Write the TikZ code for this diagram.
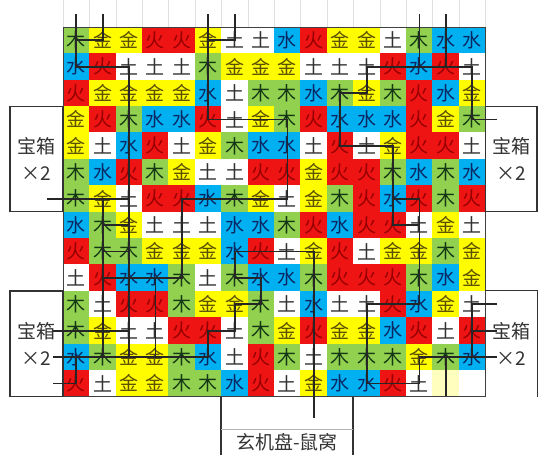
\documentclass[tikz,border=0pt]{standalone}
\usepackage{fontspec}
\setmainfont{Noto Sans CJK SC}
\usepackage{tikz}
\usepackage{xcolor}
\definecolor{jinc}{RGB}{255,252,0}
\definecolor{muc}{RGB}{146,208,80}
\definecolor{shuic}{RGB}{0,176,240}
\definecolor{huoc}{RGB}{238,20,20}
\definecolor{jint}{RGB}{90,80,0}
\definecolor{mut}{RGB}{20,55,20}
\definecolor{shuit}{RGB}{10,40,100}
\definecolor{huot}{RGB}{150,0,0}
\definecolor{tut}{RGB}{50,50,50}

\begin{document}
\begin{tikzpicture}[x=1pt,y=-1pt]%
  \tikzstyle{cell}=[rectangle,minimum size=26.8pt,inner sep=0,font=\fontsize{19}{19}\selectfont]
  \tikzstyle{金}=[fill=jinc,text=jint]
  \tikzstyle{木}=[fill=muc,text=mut]
  \tikzstyle{水}=[fill=shuic,text=shuit]
  \tikzstyle{火}=[fill=huoc,text=huot]
  \tikzstyle{土}=[fill=white,text=tut]
  \tikzstyle{road}=[draw=black!85,line width=1.8pt]
  \tikzstyle{boxl}=[draw=black!80,line width=1.1pt]
  \tikzstyle{chest}=[boxl,rectangle,inner sep=0,align=center,font=\fontsize{19}{26.4}\selectfont,text=black!80]
  \useasboundingbox (0,0) rectangle (550,455);
  \foreach \k in {0,...,16} \draw[gray!25] (63+26.4*\k,0) -- (63+26.4*\k,27);
  \foreach \row [count=\r] in {
      {木,金,金,火,火,金,土,土,水,火,金,金,土,木,水,水},
      {水,火,土,土,土,木,金,金,金,土,土,土,火,水,火,土},
      {火,金,金,金,金,水,土,木,木,水,木,金,木,火,水,金},
      {金,火,木,水,水,火,土,金,木,火,水,水,水,火,金,木},
      {金,土,水,火,土,金,木,水,水,土,火,土,金,火,火,土},
      {木,水,火,木,金,土,土,火,火,金,火,火,木,水,木,水},
      {木,金,土,火,火,水,木,金,土,金,木,火,水,火,木,火},
      {水,木,金,土,土,土,水,水,木,火,水,火,火,土,金,土},
      {火,木,木,金,金,金,水,火,土,金,火,土,金,金,木,金},
      {土,火,水,水,木,土,木,水,水,木,火,火,火,木,水,金},
      {木,土,火,火,木,金,金,木,土,水,土,土,火,水,金,土},
      {木,金,土,土,火,火,土,木,金,火,金,金,水,火,土,火},
      {水,木,金,金,木,水,土,火,木,土,木,木,木,金,木,水},
      {火,土,金,金,木,木,水,火,土,金,水,水,火,土}} {
    \foreach \c [count=\k] in \row
      \node[cell,\c] (c\r-\k) at (63+26.4*\k-13.2,27+26.4*\r-13.2) {\c};
  }
  \node[cell,fill=jinc!25] (c14-15) at (63+26.4*15-13.2,27+26.4*14-13.2) {};
  \node[cell,fill=white] (c14-16) at (63+26.4*16-13.2,27+26.4*14-13.2) {};
  \draw[black!75,line width=1pt] (63,27) rectangle (485.4,396.6);

  \node[chest,minimum width=53pt,minimum height=105.6pt] (chestA) at (36.5,159) {宝箱\\×2};
  \node[chest,minimum width=51.6pt,minimum height=105.6pt] (chestB) at (511.2,159) {宝箱\\×2};
  \node[chest,minimum width=53pt,minimum height=105.6pt] (chestC) at (36.5,343.8) {宝箱\\×2};
  \node[chest,draw=none,minimum width=51.6pt,minimum height=105.6pt] (chestD) at (511.2,343.8) {宝箱\\×2};
  \draw[boxl] (chestD.south east) -- (chestD.north east) -- (chestD.north west);
  \node[font=\fontsize{19}{19}\selectfont,text=black!80] (nest) at (287,442) {玄机盘-鼠窝};
  \draw[boxl] (221,396.6) -- (221,455);
  \draw[boxl] (353,396.6) -- (353,455);
  \draw[gray!60,line width=0.8pt] (221,429) -- (353,429);

  \draw[road] (c1-1 |- 0,14) -- (c2-1.center) -- (c2-3.center) -- (c13-3.center);
  \draw[road] (c1-2 |- 0,14) -- (c1-2.center) -- (c1-1.center);
  \draw[road] (c1-6 |- 0,14) -- (c4-6.center) -- (c4-9.center) -- (c7-9.center) -- (c7-5.center) -- (c10-5.center) -- (c10-2.center);
  \draw[road] (c1-7 |- 0,14) -- (c1-7.center) -- (c1-6.center);
  \draw[road] (47,0 |- c7-1) -- (c7-3.center);
  \draw[road] (c7-2.center) -- (c13-2.center);
  \draw[road] (c8-2.center) -- (c8-3.center);
  \draw[road] (c9-2.center) -- (c9-3.center);
  \draw[road] (c10-4.center) -- (c13-4.center);
  \draw[road] (53,0 |- c12-1) -- (c12-3.center);
  \draw[road] (53,0 |- c13-1) -- (c13-6.center) -- (c12-6.center) -- (c12-7.center) -- (c11-7.center) -- (c11-8.center) -- (c10-8.center) -- (c10-7.center) -- (c9-7.center) -- (c9-10.center) -- (c9-10 |- 0,418);
  \draw[road] (53,0 |- c14-1) -- (c14-1.center) -- (c13-1.center);
  \draw[road] (c1-14 |- 0,14) -- (c2-14.center);
  \draw[road] (c1-15 |- 0,14) -- (c2-15.center);
  \draw[road] (497,0 |- c4-1) -- (c4-16.center) -- (c2-16.center) -- (c2-12.center) -- (c3-12.center) -- (c3-11.center) -- (c5-11.center) -- (c5-13.center) -- (c8-13.center) -- (c8-14.center);
  \draw[road] (c7-13.center) -- (c7-14.center) -- (c11-14.center) -- (c11-12.center) -- (c14-12.center) -- (c14-14.center) -- (c13-14.center) -- (497,0 |- c13-1);
  \draw[road] (c13-15.center) -- (c13-15 |- 0,396);
  \draw[road] (497,0 |- c11-1) -- (c11-16.center) -- (c13-16.center);
  \draw[road] (497,0 |- c12-1) -- (c12-16.center);
\end{tikzpicture}
\end{document}
